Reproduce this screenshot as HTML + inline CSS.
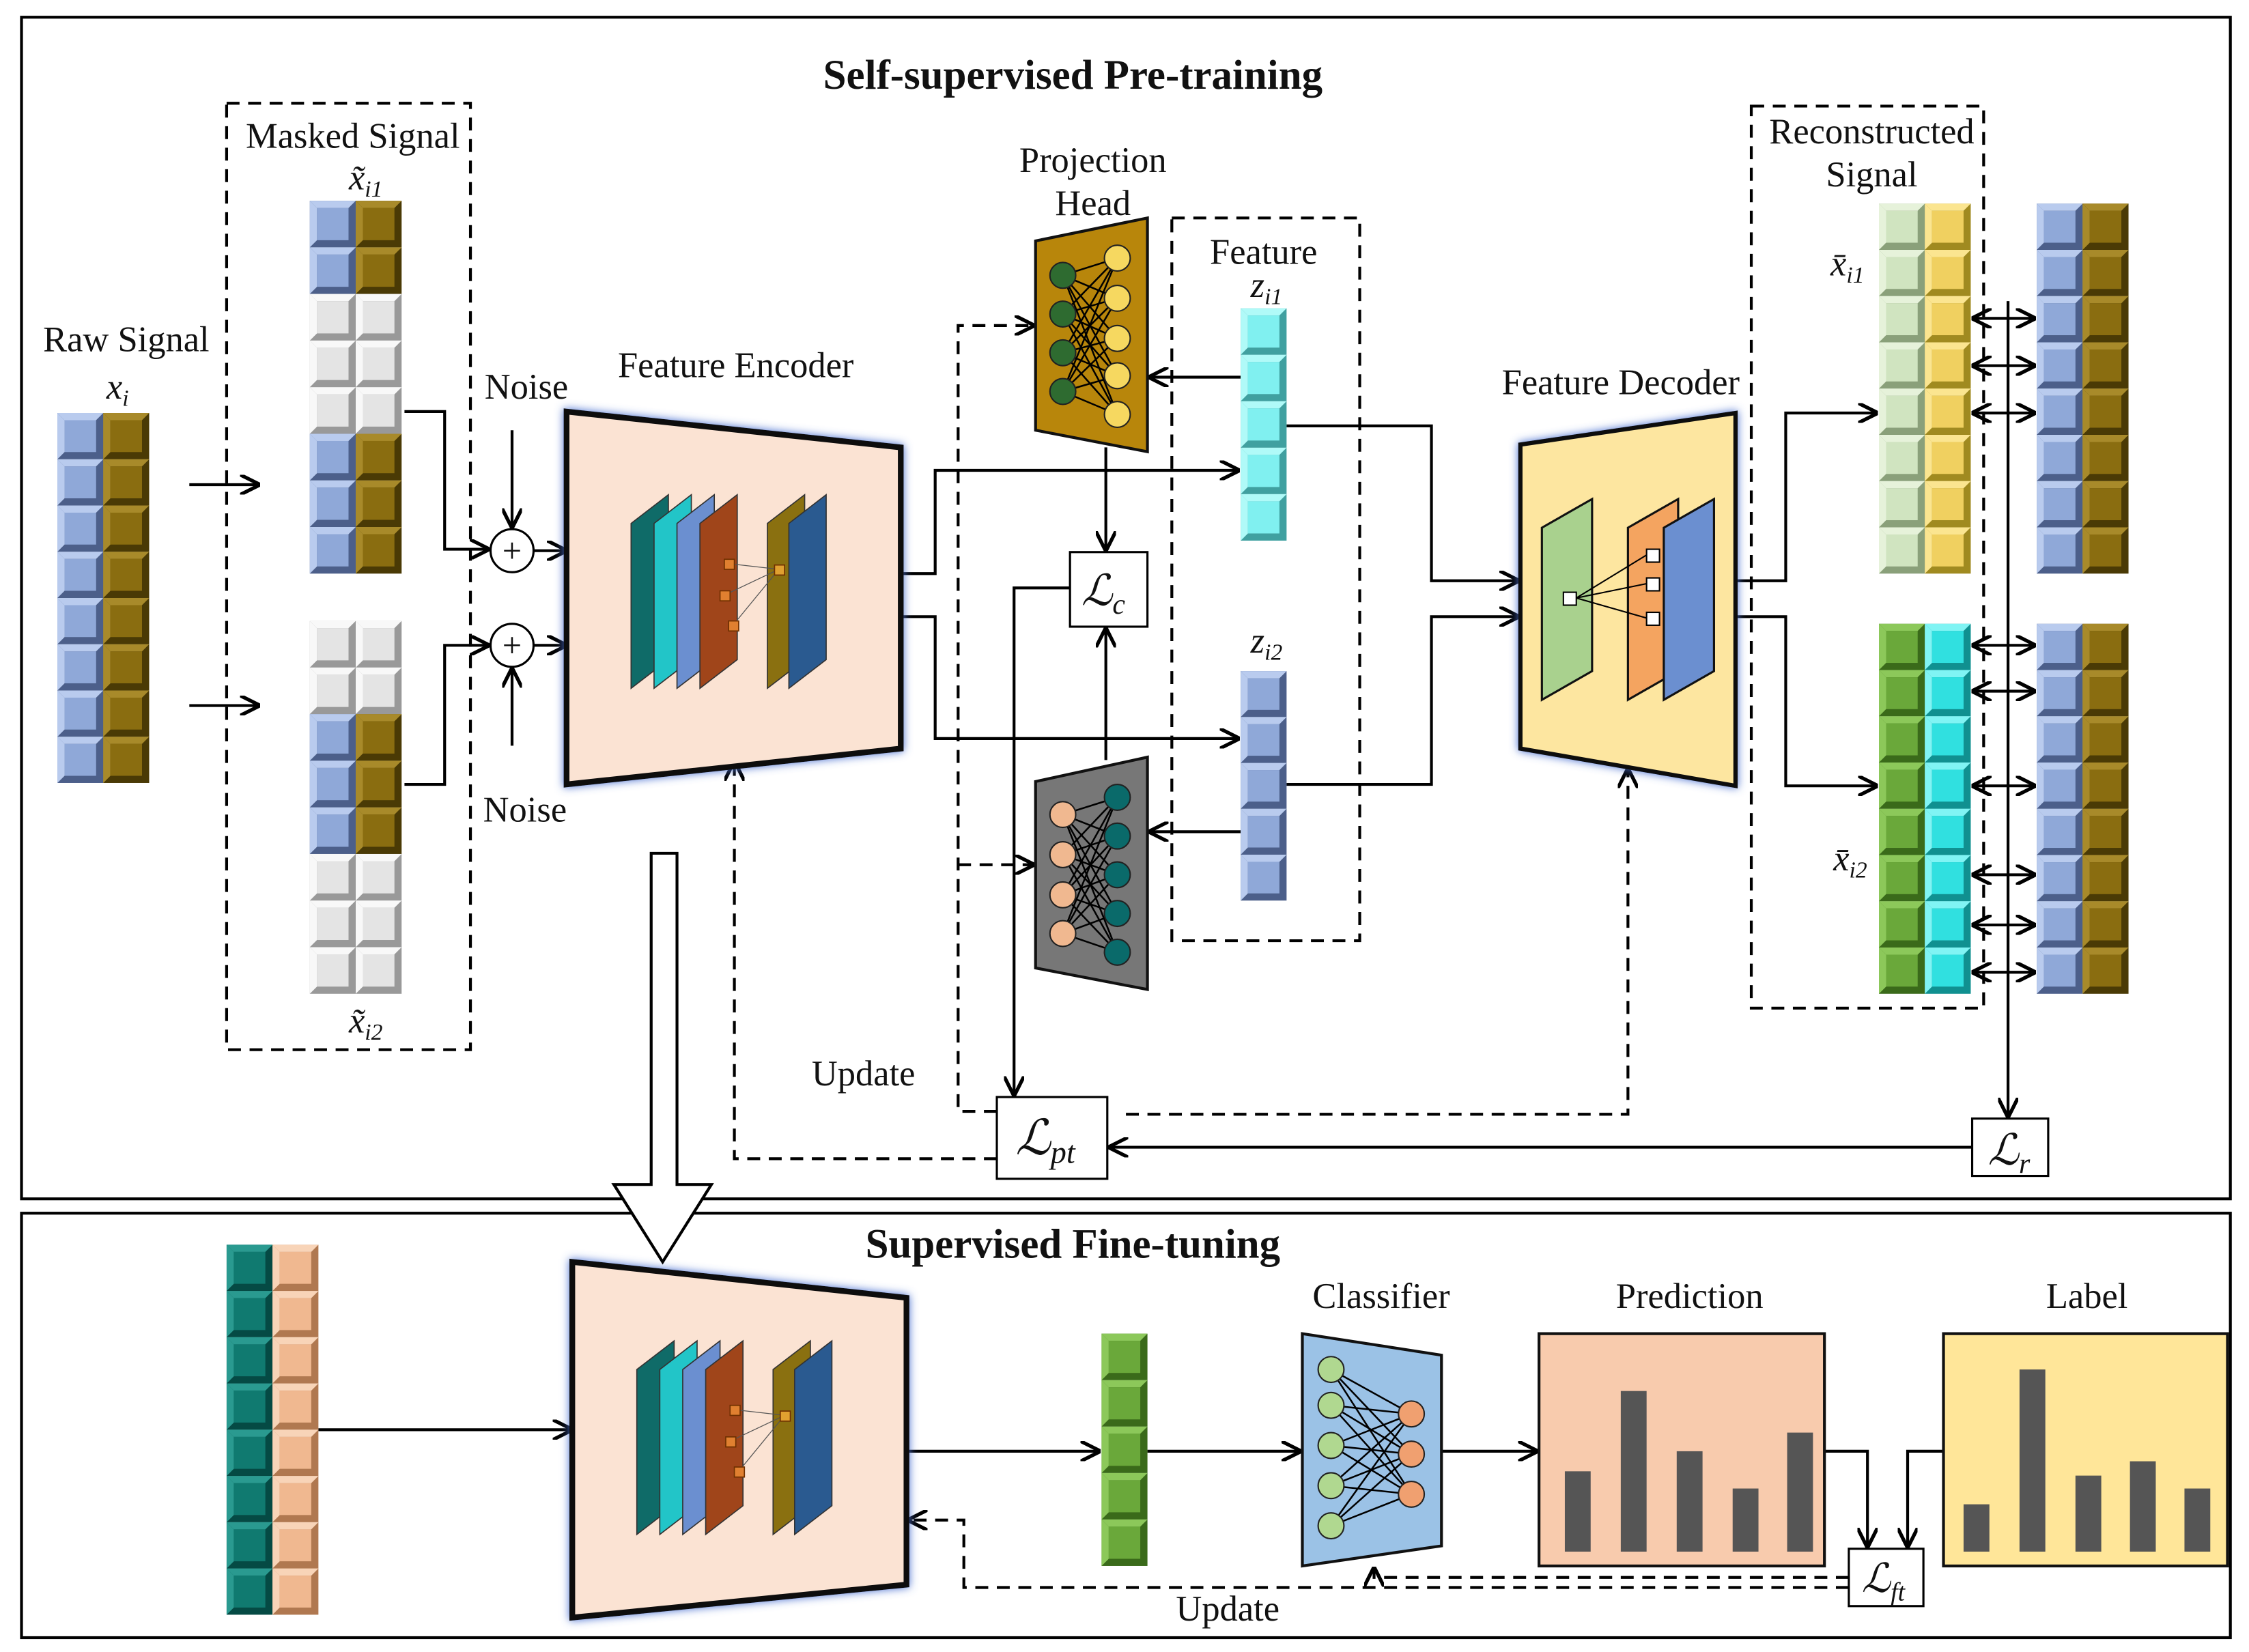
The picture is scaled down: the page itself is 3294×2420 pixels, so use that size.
<!DOCTYPE html>
<html><head><meta charset="utf-8"><style>
html,body{margin:0;padding:0;background:#fff}
svg{display:block}
text{font-family:"Liberation Serif",serif;fill:#111}
</style></head><body>
<svg id="s" xmlns="http://www.w3.org/2000/svg" width="3294" height="2420" viewBox="0 0 1568 1152" preserveAspectRatio="none">
<defs>
<marker id="a" viewBox="0 0 10 10" refX="9" refY="5" markerWidth="7" markerHeight="7" orient="auto-start-reverse"><path d="M0,0L10,5L0,10" fill="none" stroke="#000" stroke-width="1.8"/></marker>
<filter id="g" x="-10%" y="-10%" width="120%" height="120%"><feDropShadow dx="0" dy="0" stdDeviation="3" flood-color="#4a70d0"/></filter>
</defs>
<rect x="15" y="12" width="1540" height="824" fill="none" stroke="#000" stroke-width="2"/>
<rect x="15" y="846" width="1540" height="296" fill="none" stroke="#000" stroke-width="2"/>
<text x="748" y="62" font-size="29" font-weight="bold" text-anchor="middle">Self-supervised Pre-training</text>
<text x="748" y="877" font-size="29" font-weight="bold" text-anchor="middle">Supervised Fine-tuning</text>
<g font-size="25" text-anchor="middle">
<text x="88" y="245">Raw Signal</text><text x="82" y="278" font-style="italic">x<tspan font-size="16" dy="5">i</tspan></text>
<text x="246" y="103">Masked Signal</text><text x="255" y="132" font-style="italic">x̃<tspan font-size="16" dy="5">i1</tspan></text>
<text x="255" y="720" font-style="italic">x̃<tspan font-size="16" dy="5">i2</tspan></text>
<text x="367" y="278">Noise</text><text x="366" y="573">Noise</text>
<text x="513" y="263">Feature Encoder</text>
<text x="762" y="120">Projection</text><text x="762" y="150">Head</text>
<text x="881" y="184">Feature</text><text x="883" y="207" font-style="italic">z<tspan font-size="16" dy="5">i1</tspan></text>
<text x="883" y="455" font-style="italic">z<tspan font-size="16" dy="5">i2</tspan></text>
<text x="1130" y="275">Feature Decoder</text>
<text x="1305" y="100">Reconstructed</text><text x="1305" y="130">Signal</text>
<text x="1288" y="192" font-style="italic">x̄<tspan font-size="16" dy="5">i1</tspan></text>
<text x="1290" y="607" font-style="italic">x̄<tspan font-size="16" dy="5">i2</tspan></text>
<text x="602" y="757">Update</text><text x="856" y="1130">Update</text>
<text x="963" y="912">Classifier</text><text x="1178" y="912">Prediction</text><text x="1455" y="912">Label</text>
</g>
<g fill="none" stroke="#000" stroke-width="2" stroke-dasharray="9,6">
<rect x="158" y="72" width="170" height="660"/>
<rect x="817" y="152" width="131" height="504"/>
<rect x="1221" y="74" width="162" height="629"/>
<polyline points="695,775 668,775 668,227 720,227" marker-end="url(#a)"/>
<polyline points="668,603 720,603" marker-end="url(#a)"/>
<polyline points="785,777 1135,777 1135,537" marker-end="url(#a)"/>
<polyline points="695,808 512,808 512,532" marker-end="url(#a)"/>
<polyline points="1289,1107 672,1107 672,1060 634,1060" marker-end="url(#a)"/>
<polyline points="1289,1100 958,1100 958,1094" marker-end="url(#a)"/>
</g>
<g fill="none" stroke="#000" stroke-width="2">
<line x1="132" y1="338" x2="180" y2="338" marker-end="url(#a)"/>
<line x1="132" y1="492" x2="180" y2="492" marker-end="url(#a)"/>
<polyline points="282,287 310,287 310,383 340,383" marker-end="url(#a)"/>
<polyline points="282,547 310,547 310,450 340,450" marker-end="url(#a)"/>
<line x1="357" y1="300" x2="357" y2="367" marker-end="url(#a)"/>
<line x1="357" y1="520" x2="357" y2="467" marker-end="url(#a)"/>
<line x1="372" y1="384" x2="394" y2="384" marker-end="url(#a)"/>
<line x1="372" y1="450" x2="394" y2="450" marker-end="url(#a)"/>
<polyline points="628,400 652,400 652,328 863,328" marker-end="url(#a)"/>
<polyline points="628,430 652,430 652,515 863,515" marker-end="url(#a)"/>
<line x1="865" y1="263" x2="802" y2="263" marker-end="url(#a)"/>
<line x1="865" y1="580" x2="802" y2="580" marker-end="url(#a)"/>
<line x1="771" y1="312" x2="771" y2="383" marker-end="url(#a)"/>
<line x1="771" y1="530" x2="771" y2="439" marker-end="url(#a)"/>
<polyline points="746,410 707,410 707,763" marker-end="url(#a)"/>
<polyline points="897,297 998,297 998,405 1058,405" marker-end="url(#a)"/>
<polyline points="897,547 998,547 998,430 1058,430" marker-end="url(#a)"/>
<polyline points="1210,405 1245,405 1245,288 1308,288" marker-end="url(#a)"/>
<polyline points="1210,430 1245,430 1245,548 1308,548" marker-end="url(#a)"/>
<line x1="1400" y1="210" x2="1400" y2="778" marker-end="url(#a)"/>
<line x1="1375" y1="800" x2="774" y2="800" marker-end="url(#a)"/>
<line x1="222" y1="997" x2="398" y2="997" marker-end="url(#a)"/>
<line x1="632" y1="1012" x2="766" y2="1012" marker-end="url(#a)"/>
<line x1="800" y1="1012" x2="906" y2="1012" marker-end="url(#a)"/>
<line x1="1005" y1="1012" x2="1071" y2="1012" marker-end="url(#a)"/>
<polyline points="1272,1012 1302,1012 1302,1078" marker-end="url(#a)"/>
<polyline points="1355,1012 1330,1012 1330,1078" marker-end="url(#a)"/>
</g>
<g id="dbl" fill="none" stroke="#000" stroke-width="2"></g>
<circle cx="357" cy="384" r="15" fill="#fff" stroke="#000" stroke-width="1.5"/><text x="357" y="392" font-size="24" text-anchor="middle">+</text>
<circle cx="357" cy="450" r="15" fill="#fff" stroke="#000" stroke-width="1.5"/><text x="357" y="458" font-size="24" text-anchor="middle">+</text>
<polygon points="395,287 628,312 628,522 395,547" fill="#fbe3d3" stroke="#111" stroke-width="4" filter="url(#g)"/>
<polygon points="399,880 632,905 632,1105 399,1128" fill="#fbe3d3" stroke="#111" stroke-width="4" filter="url(#g)"/>
<polygon points="1060,310 1210,288 1210,548 1060,522" fill="#fde6a0" stroke="#111" stroke-width="3" filter="url(#g)"/>
<polygon points="722,168 800,152 800,315 722,300" fill="#b8860b" stroke="#111" stroke-width="2"/>
<polygon points="722,545 800,528 800,690 722,675" fill="#777" stroke="#111" stroke-width="2"/>
<polygon points="908,930 1005,945 1005,1078 908,1092" fill="#9bc2e6" stroke="#111" stroke-width="2"/>
<rect x="1073" y="930" width="199" height="162" fill="#f8cbad" stroke="#111" stroke-width="2"/>
<rect x="1355" y="930" width="198" height="162" fill="#ffe699" stroke="#111" stroke-width="2"/>
<g fill="#555">
<rect x="1091" y="1026" width="18" height="56"/><rect x="1130" y="970" width="18" height="112"/><rect x="1169" y="1012" width="18" height="70"/><rect x="1208" y="1038" width="18" height="44"/><rect x="1246" y="999" width="18" height="83"/>
<rect x="1369" y="1049" width="18" height="33"/><rect x="1408" y="955" width="18" height="127"/><rect x="1447" y="1029" width="18" height="53"/><rect x="1485" y="1019" width="18" height="63"/><rect x="1523" y="1038" width="18" height="44"/>
</g>
<g fill="#fff" stroke="#000" stroke-width="1.5">
<rect x="746" y="385" width="54" height="52"/><rect x="695" y="765" width="77" height="57"/><rect x="1375" y="780" width="53" height="40"/><rect x="1289" y="1080" width="52" height="40"/>
</g>
<g font-style="italic" font-family="Liberation Serif">
<text x="754" y="422" font-size="30">ℒ<tspan font-size="20" dy="6">c</tspan></text>
<text x="708" y="805" font-size="34">ℒ<tspan font-size="22" dy="6">pt</tspan></text>
<text x="1386" y="812" font-size="30">ℒ<tspan font-size="20" dy="6">r</tspan></text>
<text x="1298" y="1110" font-size="28">ℒ<tspan font-size="18" dy="6">ft</tspan></text>
</g>
<polygon points="454,595 472,595 472,826 496,826 462,880 428,826 454,826" fill="#fff" stroke="#000" stroke-width="2"/>
<g id="cells"></g>
<g id="nets"></g>
</svg>
<script>
var NS="http://www.w3.org/2000/svg";
function el(p,t,a){var e=document.createElementNS(NS,t);for(var k in a)e.setAttribute(k,a[k]);document.getElementById(p).appendChild(e);return e;}
var C={b:["#8fa8d8","#b9cbee","#4c5f8a"],o:["#8a6d10","#a88a2a","#4a3a05"],w:["#e4e4e4","#f8f8f8","#999"],l:["#d0e4c0","#e6f2da","#8aa07a"],y:["#f0d060","#fbe590","#a08a20"],g:["#6aa83a","#8cc85a","#3a6a1a"],c:["#30e0e0","#80f4f4","#109090"],t:["#107a70","#2a9a90","#054a44"],p:["#f0b890","#f8d4b8","#b07850"],z:["#80f0f0","#b0faf8","#40a0a0"]};
function cell(x,y,w,h,k){var c=C[k];el("cells","rect",{x:x,y:y,width:w,height:h,fill:c[2]});el("cells","polygon",{points:x+","+y+" "+(x+w)+","+y+" "+(x+w-5)+","+(y+5)+" "+(x+5)+","+(y+5),fill:c[1]});el("cells","polygon",{points:x+","+y+" "+(x+5)+","+(y+5)+" "+(x+5)+","+(y+h-5)+" "+x+","+(y+h),fill:c[1]});el("cells","rect",{x:x+5,y:y+5,width:w-10,height:h-10,fill:c[0]});}
function col(x,y,h,pat){var n=pat.length,ch=h/n;for(var i=0;i<n;i++){var p=pat[i];if(p.length==2){cell(x,y+i*ch,32,ch,p[0]);cell(x+32,y+i*ch,32,ch,p[1]);}else cell(x,y+i*ch,32,ch,p);}}
var bo=["bo","bo","bo","bo","bo","bo","bo","bo"];
col(40,288,258,bo);
col(216,140,260,["bo","bo","ww","ww","ww","bo","bo","bo"]);
col(216,433,260,["ww","ww","bo","bo","bo","ww","ww","ww"]);
col(865,215,162,["z","z","z","z","z"]);
col(865,468,160,["b","b","b","b","b"]);
col(1310,142,258,["ly","ly","ly","ly","ly","ly","ly","ly"]);
col(1310,435,258,["gc","gc","gc","gc","gc","gc","gc","gc"]);
col(1420,142,258,bo);col(1420,435,258,bo);
col(158,868,258,["tp","tp","tp","tp","tp","tp","tp","tp"]);
col(768,930,162,["g","g","g","g","g"]);
[222,255,288,450,482,548,610,645,678].forEach(function(y){el("dbl","line",{x1:1376,y1:y,x2:1418,y2:y,"marker-end":"url(#a)","marker-start":"url(#a)"});});
function layers(ox,oy){var cs=["#0f6b68","#22c5c8","#6b8fd0","#a0451a"],xs=[0,16,32,48];
for(var i=0;i<4;i++){var x=ox+xs[i];el("nets","polygon",{points:x+","+(oy+20)+" "+(x+26)+","+oy+" "+(x+26)+","+(oy+115)+" "+x+","+(oy+135),fill:cs[i],stroke:"#333","stroke-width":0.8});}
var x=ox+95;el("nets","polygon",{points:x+","+(oy+20)+" "+(x+26)+","+oy+" "+(x+26)+","+(oy+115)+" "+x+","+(oy+135),fill:"#8a7010",stroke:"#333","stroke-width":0.8});
x=ox+110;el("nets","polygon",{points:x+","+(oy+20)+" "+(x+26)+","+oy+" "+(x+26)+","+(oy+115)+" "+x+","+(oy+135),fill:"#2a5a90",stroke:"#333","stroke-width":0.8});
[[65,45],[62,67],[68,88]].forEach(function(p){el("nets","line",{x1:ox+p[0]+3,y1:oy+p[1]+3,x2:ox+103,y2:oy+52,stroke:"#555","stroke-width":0.6});el("nets","rect",{x:ox+p[0],y:oy+p[1],width:7,height:7,fill:"#e08030",stroke:"#703000","stroke-width":0.8});});
el("nets","rect",{x:ox+100,y:oy+49,width:7,height:7,fill:"#e0a030",stroke:"#703000","stroke-width":0.8});}
layers(440,345);layers(444,935);
function pg(x,y,w,h,s,f){el("nets","polygon",{points:x+","+(y+s)+" "+(x+w)+","+y+" "+(x+w)+","+(y+h-s)+" "+x+","+(y+h),fill:f,stroke:"#111","stroke-width":1.5});}
pg(1075,348,35,140,20,"#a9d18e");pg(1135,348,35,140,20,"#f4a460");pg(1160,348,35,140,20,"#6b8fd0");
el("nets","rect",{x:1090,y:413,width:9,height:9,fill:"#fff",stroke:"#000"});
[383,403,427].forEach(function(y){el("nets","line",{x1:1099,y1:417,x2:1148,y2:y+4,stroke:"#000"});el("nets","rect",{x:1148,y:y,width:9,height:9,fill:"#fff",stroke:"#000"});});
function net(L,R,lc,rc){L.forEach(function(a){R.forEach(function(b){el("nets","line",{x1:a[0],y1:a[1],x2:b[0],y2:b[1],stroke:"#000","stroke-width":1.2});});});
L.forEach(function(a){el("nets","circle",{cx:a[0],cy:a[1],r:9,fill:lc,stroke:"#222"});});R.forEach(function(b){el("nets","circle",{cx:b[0],cy:b[1],r:9,fill:rc,stroke:"#222"});});}
net([[741,192],[741,219],[741,246],[741,273]],[[779,180],[779,208],[779,236],[779,262],[779,289]],"#2e6b30","#f6d860");
net([[741,568],[741,596],[741,624],[741,651]],[[779,556],[779,583],[779,610],[779,637],[779,664]],"#f0b890","#0a6a6a");
net([[928,955],[928,980],[928,1008],[928,1036],[928,1064]],[[984,986],[984,1014],[984,1042]],"#b0d890","#f0a070");
</script>
</body></html>
